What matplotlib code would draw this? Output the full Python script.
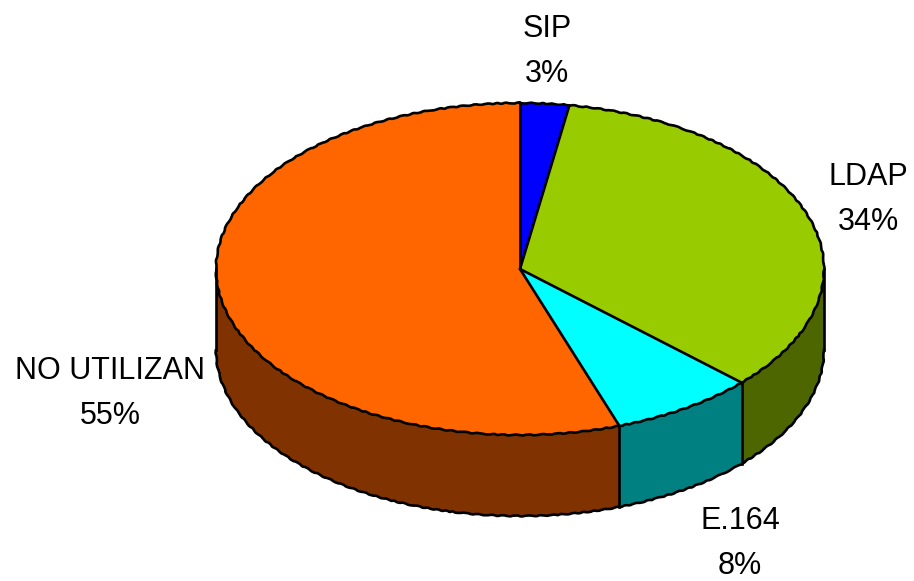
import numpy as np
import matplotlib
matplotlib.use('Agg')
import matplotlib.pyplot as plt

plt.rcParams['font.family'] = ['Liberation Sans', 'DejaVu Sans']

categories = ['SIP', 'LDAP', 'E.164', 'NO UTILIZAN']
values = [2.6, 34.4, 7.7, 55.3]
percent_labels = ['3%', '34%', '8%', '55%']
top_colors = ['#0000FF', '#99CC00', '#00FFFF', '#FF6600']
side_colors = ['#0000FF', '#4D6600', '#008080', '#803300']

W, H = 914, 581
cx, cy = 520, 269       # pie centre, px
rx, ry = 304, 166       # ellipse radii, px
depth = 81 / ry
lw = 1.9
wobble = (0.45, 14, 3)

# label centre x, first baseline y, px
label_pos = [(547, 37), (868, 185), (740, 529), (110, 379)]
line_gap = 45

fig = plt.figure(figsize=(W / 100, H / 100), dpi=100)
ax = fig.add_axes([0, 0, 1, 1])

xlim = (-cx / rx, (W - cx) / rx)
ylim = ((cy - H) / ry, cy / ry)

def arc(a0, a1, n=200):
    # angles clockwise from 12 o'clock, like the pie
    t = np.radians(90 - np.linspace(a0, a1, n))
    return np.cos(t), np.sin(t)

edges = np.cumsum([0] + values) / sum(values) * 360

# side walls, only the front half of the ellipse shows
for i in range(len(values)):
    a0 = max(edges[i], 90)
    a1 = min(edges[i + 1], 270)
    if a1 <= a0:
        continue
    x, y = arc(a0, a1)
    ax.fill(np.r_[x, x[::-1]], np.r_[y, y[::-1] - depth], facecolor=side_colors[i],
            edgecolor='none', zorder=1)

wedges, _ = ax.pie(values, colors=top_colors, startangle=90, counterclock=False, radius=1,
                   wedgeprops={'edgecolor': 'none', 'zorder': 2})

# straight lines: spokes, plus wall seams below the front ones
for a in edges[:-1]:
    x, y = arc(a, a, 1)
    ax.plot([0, x[0]], [0, y[0]], color='k', lw=lw, zorder=4, solid_capstyle='round')
    if 90 < a < 270:
        ax.plot([x[0], x[0]], [y[0], y[0] - depth], color='k', lw=lw, zorder=3)

# rims are a bit jagged in the original
x, y = arc(0, 360, 400)
rim, = ax.plot(x, y, color='k', lw=lw, zorder=4)
rim.set_sketch_params(*wobble)
x, y = arc(90, 270, 300)
low, = ax.plot(x, y - depth, color='k', lw=lw, zorder=3)
low.set_sketch_params(*wobble)
for a in (90, 270):
    x, y = arc(a, a, 1)
    ax.plot([x[0], x[0]], [y[0], y[0] - depth], color='k', lw=lw, zorder=3)

ax.set_aspect('auto')
ax.set_xlim(xlim)
ax.set_ylim(ylim)
ax.axis('off')

for name, pct, (px, py) in zip(categories, percent_labels, label_pos):
    for j, s in enumerate([name, pct]):
        ax.text((px - cx) / rx, (cy - (py + j * line_gap)) / ry, s, fontsize=22,
                ha='center', va='baseline', color='k')

fig.savefig('out.png', dpi=100, facecolor='white')
